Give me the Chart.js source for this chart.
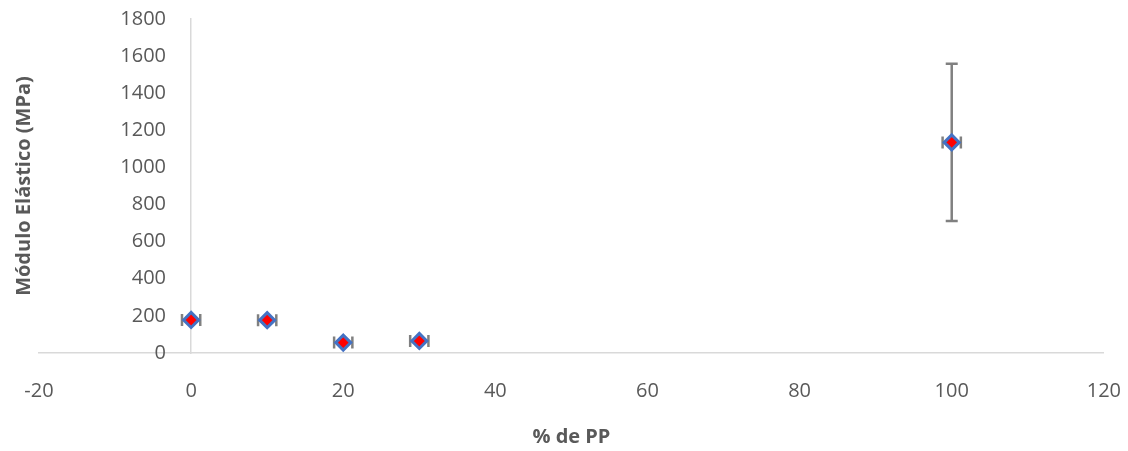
<!DOCTYPE html>
<html>
<head>
<meta charset="utf-8">
<script src="https://cdn.jsdelivr.net/npm/chart.js@4.4.1/dist/chart.umd.min.js"></script>
<style>
  html, body { margin: 0; padding: 0; background: #ffffff; }
  #wrap { width: 1128px; height: 451px; }
</style>
</head>
<body>
<div id="wrap"><canvas id="chart"></canvas></div>
<script>
// Elastic modulus versus PP content
const ppPercent   = [0, 10, 20, 30, 100];
const modulus     = [178, 177, 56, 65, 1135];
const modulusErr  = [10, 10, 8, 8, 424];
const percentErr  = [1.2, 1.2, 1.2, 1.2, 1.2];
const xTicks      = [-20, 0, 20, 40, 60, 80, 100, 120];
const yTicks      = [0, 200, 400, 600, 800, 1000, 1200, 1400, 1600, 1800];

const FONT = '"Open Sans", "Liberation Sans", sans-serif';
const TEXT = '#595959';
const LINE = '#d9d9d9';

// Vertical and horizontal error bars with caps, drawn under the markers
const errorBars = {
  id: 'errorBars',
  beforeDatasetsDraw(chart) {
    const { ctx, scales: { x, y } } = chart;
    const cap = 6;
    ctx.save();
    ctx.strokeStyle = '#808080';
    ctx.lineWidth = 2.5;
    ctx.lineCap = 'butt';
    ppPercent.forEach((px, i) => {
      const cx = x.getPixelForValue(px);
      const cy = y.getPixelForValue(modulus[i]);
      const yTop = y.getPixelForValue(modulus[i] + modulusErr[i]);
      const yBot = y.getPixelForValue(modulus[i] - modulusErr[i]);
      const xL = x.getPixelForValue(px - percentErr[i]);
      const xR = x.getPixelForValue(px + percentErr[i]);
      ctx.beginPath();
      ctx.moveTo(cx, yTop); ctx.lineTo(cx, yBot);
      ctx.moveTo(cx - cap, yTop); ctx.lineTo(cx + cap, yTop);
      ctx.moveTo(cx - cap, yBot); ctx.lineTo(cx + cap, yBot);
      ctx.moveTo(xL, cy); ctx.lineTo(xR, cy);
      ctx.moveTo(xL, cy - cap); ctx.lineTo(xL, cy + cap);
      ctx.moveTo(xR, cy - cap); ctx.lineTo(xR, cy + cap);
      ctx.stroke();
    });
    ctx.restore();
  }
};

const yRange = { min: 0, max: 1800 };

new Chart(document.getElementById('chart'), {
  type: 'scatter',
  data: {
    datasets: [{
      data: ppPercent.map((v, i) => ({ x: v, y: modulus[i] })),
      pointStyle: 'rectRot',
      pointRadius: 7.5,
      pointHoverRadius: 7.5,
      pointBorderWidth: 3,
      pointBackgroundColor: '#ff0000',
      pointBorderColor: '#4472c4'
    }]
  },
  options: {
    responsive: true,
    maintainAspectRatio: false,
    animation: false,
    events: [],
    layout: { padding: { left: 12, right: 7, top: 19, bottom: 0 } },
    plugins: { legend: { display: false }, tooltip: { enabled: false } },
    scales: {
      x: {
        type: 'linear',
        position: 'bottom',
        min: -20, max: 120,
        afterBuildTicks: s => { s.ticks = xTicks.map(v => ({ value: v })); },
        grid: { display: true, drawOnChartArea: false, drawTicks: true,
                tickLength: 19, tickColor: 'rgba(0,0,0,0)' },
        border: { display: true, color: LINE, width: 1.5 },
        ticks: { color: TEXT, padding: 7, font: { family: FONT, size: 20 } },
        title: {
          display: true, text: '% de PP', color: TEXT,
          font: { family: FONT, size: 20, weight: 'bold' },
          padding: { top: 15, bottom: 2 }
        }
      },
      // value axis: its line crosses the x axis at 0
      y: {
        type: 'linear',
        position: { x: 0 },
        ...yRange,
        afterBuildTicks: s => { s.ticks = yTicks.map(v => ({ value: v })); },
        grid: { display: false, drawTicks: false },
        border: { display: true, color: LINE, width: 1.5 },
        ticks: { display: false }
      },
      // tick labels of the value axis, set a little to the left of its line
      yLabels: {
        type: 'linear',
        position: { x: -3.3 },
        ...yRange,
        afterBuildTicks: s => { s.ticks = yTicks.map(v => ({ value: v })); },
        grid: { display: false, drawTicks: false },
        border: { display: false },
        ticks: { color: TEXT, padding: 0, font: { family: FONT, size: 20 },
                 callback: v => String(v) }
      },
      yTitle: {
        type: 'linear',
        position: 'left',
        ...yRange,
        grid: { display: false, drawTicks: false },
        border: { display: false },
        ticks: { display: false },
        title: {
          display: true, text: 'Módulo Elástico (MPa)', color: TEXT,
          font: { family: FONT, size: 20, weight: 'bold' },
          padding: { top: 0, bottom: 3 }
        }
      }
    }
  },
  plugins: [errorBars]
});
</script>
</body>
</html>
